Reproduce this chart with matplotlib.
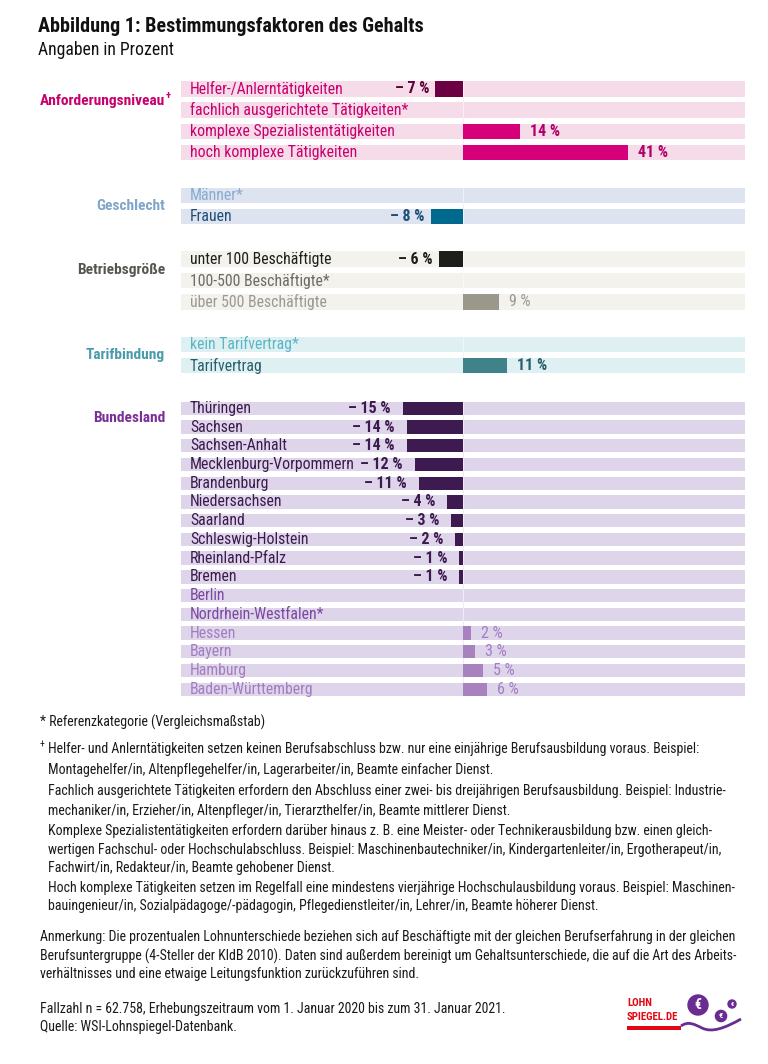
import numpy as np
import matplotlib
matplotlib.use('Agg')
import matplotlib.pyplot as plt
from matplotlib import font_manager as fm
from matplotlib.transforms import blended_transform_factory
from matplotlib.patches import Circle, PathPatch
from matplotlib.path import Path

# Daten (Lohnunterschiede in Prozent)
anf_labels = ['Helfer-/Anlerntätigkeiten', 'fachlich ausgerichtete Tätigkeiten*',
              'komplexe Spezialistentätigkeiten', 'hoch komplexe Tätigkeiten']
anf_values = [-7, 0, 14, 41]

ges_labels = ['Männer*', 'Frauen']
ges_values = [0, -8]

betr_labels = ['unter 100 Beschäftigte', '100-500 Beschäftigte*', 'über 500 Beschäftigte']
betr_values = [-6, 0, 9]

tarif_labels = ['kein Tarifvertrag*', 'Tarifvertrag']
tarif_values = [0, 11]

land_labels = ['Thüringen', 'Sachsen', 'Sachsen-Anhalt', 'Mecklenburg-Vorpommern',
               'Brandenburg', 'Niedersachsen', 'Saarland', 'Schleswig-Holstein',
               'Rheinland-Pfalz', 'Bremen', 'Berlin', 'Nordrhein-Westfalen*',
               'Hessen', 'Bayern', 'Hamburg', 'Baden-Württemberg']
land_values = [-15, -14, -14, -12, -11, -4, -3, -2, -1, -1, 0, 0, 2, 3, 5, 6]

# Schrift: möglichst schmale Familie
avail = {f.name for f in fm.fontManager.ttflist}
fam = 'Liberation Sans'
for n in ['Noto Sans Condensed', 'Liberation Sans Narrow', 'Roboto Condensed', 'Open Sans Condensed']:
    if n in avail:
        fam = n
        break
plt.rcParams['font.family'] = [fam, 'DejaVu Sans']

W, H = 768, 1064
fig = plt.figure(figsize=(W / 100, H / 100), dpi=100)

def fx(x):
    return x / W

def fy(y):
    return 1 - y / H

# Achse: x in Prozent, y in Pixeln
x0, x1 = 181.4, 745.0
ax = fig.add_axes([fx(x0), 0, fx(x1 - x0), 1])
ax.set_xlim(-70, 70)
ax.set_ylim(H, 0)
ax.axis('off')
tr = blended_transform_factory(fig.transFigure, ax.transData)

groups = [
    dict(name='Anforderungsniveau', labels=anf_labels, values=anf_values, gcol='#c8006e',
         band='#f6dbe9', lab=('#c8006e', '#c8006e', '#c8006e'),
         bar=('#6b0042', '#d5007a'), val=('#5e0039', '#b0006a'), pw='bold', ng=6),
    dict(name='Geschlecht', labels=ges_labels, values=ges_values, gcol='#7fa5c9',
         band='#dde3ef', lab=('#1e4d78', '#88acd0', '#1e4d78'),
         bar=('#006a8e', '#006a8e'), val=('#1e4d78', '#1e4d78'), pw='bold', ng=6),
    dict(name='Betriebsgröße', labels=betr_labels, values=betr_values, gcol='#57554f',
         band='#f3f2ec', lab=('#1e1e1a', '#6d6b65', '#9b9990'),
         bar=('#1e1e1a', '#9a978b'), val=('#1e1e1a', '#9b9990'), pw='normal', ng=6),
    dict(name='Tarifbindung', labels=tarif_labels, values=tarif_values, gcol='#4a9bab',
         band='#dff0f3', lab=('#285f6c', '#5bb6c6', '#285f6c'),
         bar=('#40828a', '#40828a'), val=('#285f6c', '#285f6c'), pw='bold', ng=6),
    dict(name='Bundesland', labels=land_labels, values=land_values, gcol='#7a2f96',
         band='#ded5ea', lab=('#3b1a4e', '#7b47a0', '#a27dc2'),
         bar=('#3d1a50', '#a882bf'), val=('#3b1a4e', '#a27dc2'), pw='normal', ng=12),
]

y_start, slot = 88.8, 21.3
land_step = 18.73
fs_row, fs_val, fs_grp = 11.3, 11.5, 11.1

idx = 0
for g in groups:
    n = len(g['values'])
    if g['name'] == 'Bundesland':
        ys = y_start + idx * slot + np.arange(n) * land_step
        bh = 13.3
    else:
        ys = y_start + (idx + np.arange(n)) * slot
        bh = 15.5
    idx += n + 1
    vals = np.array(g['values'], dtype=float)

    ax.barh(ys, 140, left=-70, height=bh, color=g['band'], zorder=1)
    # Nulllinie
    zc = tuple(0.5 + 0.5 * np.array(matplotlib.colors.to_rgb(g['band'])))
    ax.vlines(0, ys[0] - bh / 2, ys[-1] + bh / 2, color=zc, lw=0.8, zorder=2)
    cols = [g['bar'][0] if v < 0 else g['bar'][1] for v in vals]
    ax.barh(ys, vals, left=0, height=bh, color=cols, zorder=3)

    for y, v, lab in zip(ys, vals, g['labels']):
        k = 0 if v < 0 else (1 if v == 0 else 2)
        ax.text(fx(190), y, lab, transform=tr, ha='left', va='center',
                fontsize=fs_row, color=g['lab'][k])
        if v < 0:
            ax.annotate('– %d %%' % abs(v), xy=(v, y), xytext=(-g['ng'], 0),
                        textcoords='offset pixels', ha='right', va='center',
                        fontsize=fs_val, fontweight='bold', color=g['val'][0])
        elif v > 0:
            ax.annotate('%d %%' % v, xy=(v, y), xytext=(10, 0),
                        textcoords='offset pixels', ha='left', va='center',
                        fontsize=fs_val, fontweight=g['pw'], color=g['val'][1])

    gy = (ys[0] + ys[1]) / 2 + (2 if g['name'] == 'Anforderungsniveau' else 0)
    ax.text(fx(165), gy, g['name'], transform=tr, ha='right', va='center',
            fontsize=fs_grp, fontweight='bold', color=g['gcol'])
    if g['name'] == 'Anforderungsniveau':
        ax.text(fx(166), gy - 5, '+', transform=tr, ha='left', va='center',
                fontsize=7.5, fontweight='bold', color=g['gcol'])

# Titel
fig.text(fx(38), fy(27), 'Abbildung 1: Bestimmungsfaktoren des Gehalts',
         ha='left', va='center', fontsize=14.5, fontweight='bold', color='#111111')
fig.text(fx(38), fy(50), 'Angaben in Prozent', ha='left', va='center',
         fontsize=12.7, color='#111111')

# Fußnoten
notes = [
    (40, 722, '* Referenzkategorie (Vergleichsmaßstab)'),
    (48, 749, 'Helfer- und Anlerntätigkeiten setzen keinen Berufsabschluss bzw. nur eine einjährige Berufsausbildung voraus. Beispiel:'),
    (48, 770, 'Montagehelfer/in, Altenpflegehelfer/in, Lagerarbeiter/in, Beamte einfacher Dienst.'),
    (48, 791, 'Fachlich ausgerichtete Tätigkeiten erfordern den Abschluss einer zwei- bis dreijährigen Berufsausbildung. Beispiel: Industrie-'),
    (48, 811, 'mechaniker/in, Erzieher/in, Altenpfleger/in, Tierarzthelfer/in, Beamte mittlerer Dienst.'),
    (48, 831, 'Komplexe Spezialistentätigkeiten erfordern darüber hinaus z. B. eine Meister- oder Technikerausbildung bzw. einen gleich-'),
    (48, 850, 'wertigen Fachschul- oder Hochschulabschluss. Beispiel: Maschinenbautechniker/in, Kindergartenleiter/in, Ergotherapeut/in,'),
    (48, 868, 'Fachwirt/in, Redakteur/in, Beamte gehobener Dienst.'),
    (48, 888, 'Hoch komplexe Tätigkeiten setzen im Regelfall eine mindestens vierjährige Hochschulausbildung voraus. Beispiel: Maschinen-'),
    (48, 906, 'bauingenieur/in, Sozialpädagoge/-pädagogin, Pflegedienstleiter/in, Lehrer/in, Beamte höherer Dienst.'),
    (40, 937, 'Anmerkung: Die prozentualen Lohnunterschiede beziehen sich auf Beschäftigte mit der gleichen Berufserfahrung in der gleichen'),
    (40, 956, 'Berufsuntergruppe (4-Steller der KldB 2010). Daten sind außerdem bereinigt um Gehaltsunterschiede, die auf die Art des Arbeits-'),
    (40, 974, 'verhältnisses und eine etwaige Leitungsfunktion zurückzuführen sind.'),
    (40, 1009, 'Fallzahl n = 62.758, Erhebungszeitraum vom 1. Januar 2020 bis zum 31. Januar 2021.'),
    (40, 1027, 'Quelle: WSI-Lohnspiegel-Datenbank.'),
]
for x, y, t in notes:
    fig.text(fx(x), fy(y), t, ha='left', va='center', fontsize=10, color='#1a1a1a')
fig.text(fx(40), fy(745), '+', ha='left', va='center', fontsize=7, color='#1a1a1a')

# Logo
lg = fig.add_axes([fx(620), fy(1045), fx(140), 55 / H])
lg.set_xlim(620, 760)
lg.set_ylim(1045, 990)
lg.axis('off')
red, purple = '#e30613', '#6a2c91'
lg.text(627, 1003.5, 'LOHN', ha='left', va='center', fontsize=7.8, fontweight='bold', color=red)
lg.text(627, 1017, 'SPIEGEL.DE', ha='left', va='center', fontsize=7.8, fontweight='bold', color=red)
lg.barh(1028, 54, left=627, height=4, color=red)
for cx, cy, r, fs in [(698, 1005, 10, 10), (721, 1016, 5.6, 6), (732, 1004, 4, 4.5)]:
    lg.add_patch(Circle((cx, cy), r, color=purple))
    lg.text(cx, cy, '€', ha='center', va='center', fontsize=fs, fontweight='bold', color='white')
wave = Path([(681, 1026), (688, 1021), (694, 1024), (702, 1028),
             (712, 1033), (725, 1028), (741, 1019)],
            [Path.MOVETO, Path.CURVE4, Path.CURVE4, Path.CURVE4,
             Path.CURVE4, Path.CURVE4, Path.CURVE4])
lg.add_patch(PathPatch(wave, fill=False, color=purple, lw=2))

fig.savefig('out.png', dpi=100)
